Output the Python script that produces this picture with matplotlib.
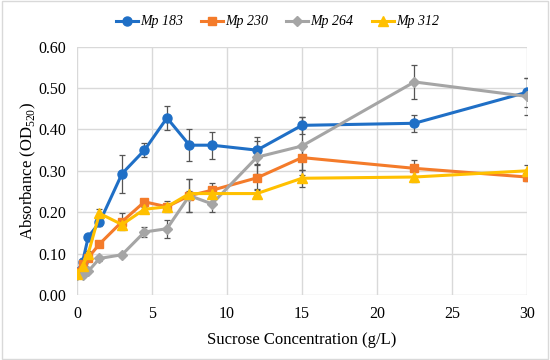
import matplotlib
matplotlib.use("Agg")
import matplotlib.pyplot as plt
from matplotlib.patches import Rectangle
from matplotlib.lines import Line2D

x = [0, 0.375, 0.75, 1.5, 3, 4.5, 6, 7.5, 9, 12, 15, 22.5, 30]

mp183 = [0.055, 0.080, 0.140, 0.175, 0.293, 0.350, 0.428, 0.362, 0.362, 0.350, 0.410, 0.415, 0.490]
mp183_err = [0.005, 0.005, 0.008, 0.008, 0.046, 0.017, 0.030, 0.038, 0.033, 0.033, 0.020, 0.020, 0.035]

mp230 = [0.055, 0.075, 0.090, 0.123, 0.177, 0.225, 0.213, 0.240, 0.253, 0.283, 0.332, 0.306, 0.285]
mp230_err = [0.005, 0.005, 0.006, 0.006, 0.020, 0.006, 0.013, 0.040, 0.018, 0.030, 0.030, 0.020, 0.010]

mp264 = [0.048, 0.048, 0.057, 0.088, 0.097, 0.152, 0.160, 0.240, 0.220, 0.333, 0.360, 0.515, 0.480]
mp264_err = [0.004, 0.004, 0.004, 0.005, 0.005, 0.013, 0.022, 0.040, 0.020, 0.040, 0.070, 0.042, 0.045]

mp312 = [0.050, 0.070, 0.100, 0.197, 0.170, 0.207, 0.213, 0.245, 0.245, 0.245, 0.282, 0.285, 0.300]
mp312_err = [0.004, 0.004, 0.005, 0.010, 0.010, 0.006, 0.006, 0.006, 0.006, 0.010, 0.020, 0.013, 0.015]

labels = ["Mp 183", "Mp 230", "Mp 264", "Mp 312"]
colors = ["#1F6FC6", "#F47B2A", "#A5A5A5", "#FFC000"]
markers = ["o", "s", "D", "^"]
msizes = [6.5, 6, 5, 7]

plt.rcParams['font.family'] = ['Liberation Serif', 'DejaVu Serif']
plt.rcParams['mathtext.fontset'] = 'custom'
plt.rcParams['mathtext.rm'] = 'Liberation Serif'

fig = plt.figure(figsize=(5.5, 3.6), dpi=100)
ax = fig.add_axes([0.140, 0.181, 0.818, 0.689])

series = [(mp183, mp183_err), (mp230, mp230_err), (mp264, mp264_err), (mp312, mp312_err)]
handles = []
for (y, e), lab, c, m, ms in zip(series, labels, colors, markers, msizes):
    ax.errorbar(x, y, yerr=e, color=c, marker=m, markersize=ms, linewidth=2.2,
                ecolor="#555555", elinewidth=0.9, capsize=2.5, capthick=0.9,
                zorder=3)
    handles.append(Line2D([], [], color=c, marker=m, markersize=ms, linewidth=2.2, label=lab))

ax.set_xlim(0, 30)
ax.set_ylim(0, 0.6)
ax.set_xticks([0, 5, 10, 15, 20, 25, 30])
ax.set_yticks([0, 0.1, 0.2, 0.3, 0.4, 0.5, 0.6])
ax.set_yticklabels([f"{v:.2f}" for v in [0, 0.1, 0.2, 0.3, 0.4, 0.5, 0.6]])
ax.grid(True, color="#D9D9D9", linewidth=1)
ax.set_axisbelow(True)
for s in ax.spines.values():
    s.set_visible(False)
ax.tick_params(length=0, labelsize=11.5, pad=8)
ax.set_xlabel("Sucrose Concentration (g/L)", fontsize=12, labelpad=7)
ax.set_ylabel("Absorbance (OD$_{\\mathrm{520}}$)", fontsize=12, labelpad=0)

fig.legend(handles=handles, loc="center", bbox_to_anchor=(0.504, 0.939), ncol=4, frameon=False,
           prop={'style': 'italic', 'size': 10}, handlelength=1.6, columnspacing=1.3,
           handletextpad=0.15)

fig.patches.append(Rectangle((0.003, 0.004), 0.994, 0.992, transform=fig.transFigure,
                             fill=False, edgecolor="#D9D9D9", linewidth=1))

fig.savefig("out.png", dpi=100)
